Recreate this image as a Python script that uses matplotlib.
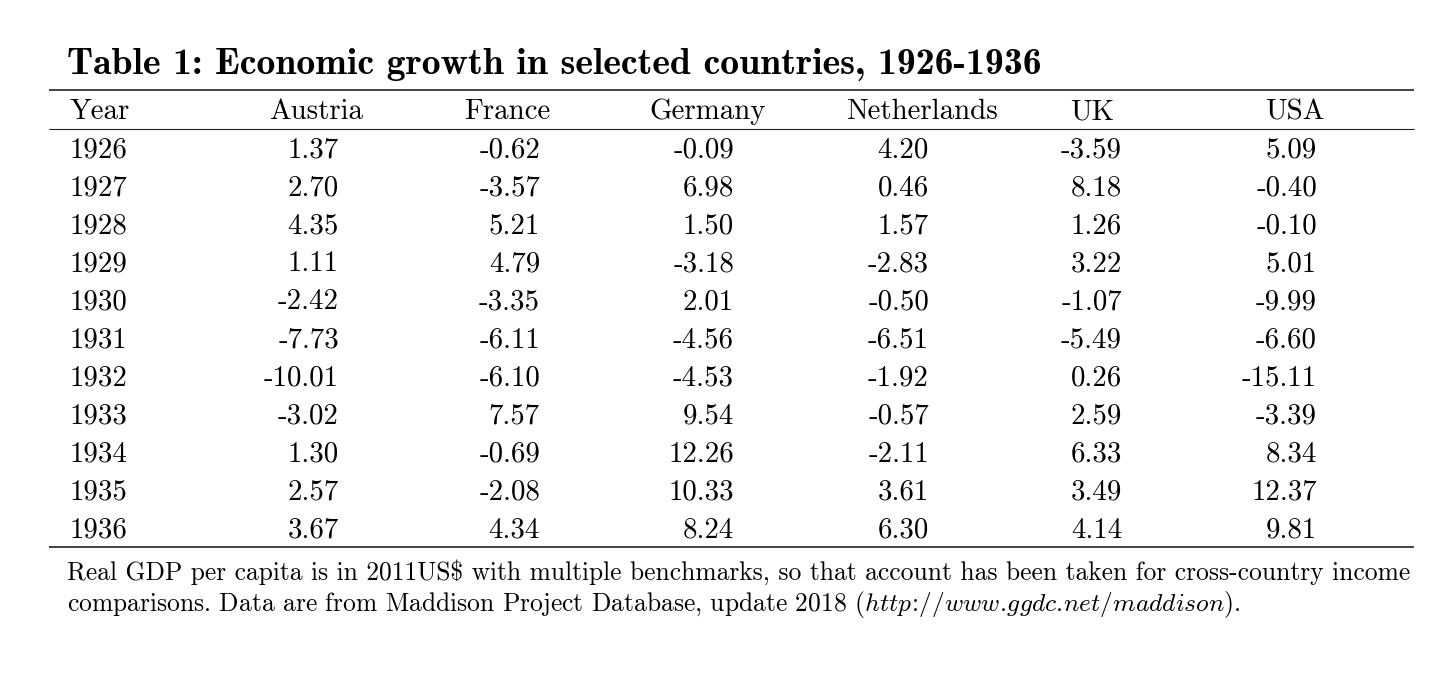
import matplotlib
matplotlib.use("Agg")
import matplotlib.pyplot as plt

plt.rcParams['mathtext.fontset'] = 'cm'

years = [1926, 1927, 1928, 1929, 1930, 1931, 1932, 1933, 1934, 1935, 1936]
countries = ["Austria", "France", "Germany", "Netherlands", "UK", "USA"]
austria = [1.37, 2.70, 4.35, 1.11, -2.42, -7.73, -10.01, -3.02, 1.30, 2.57, 3.67]
france = [-0.62, -3.57, 5.21, 4.79, -3.35, -6.11, -6.10, 7.57, -0.69, -2.08, 4.34]
germany = [-0.09, 6.98, 1.50, -3.18, 2.01, -4.56, -4.53, 9.54, 12.26, 10.33, 8.24]
netherlands = [4.20, 0.46, 1.57, -2.83, -0.50, -6.51, -1.92, -0.57, -2.11, 3.61, 6.30]
uk = [-3.59, 8.18, 1.26, 3.22, -1.07, -5.49, 0.26, 2.59, 6.33, 3.49, 4.14]
usa = [5.09, -0.40, -0.10, 5.01, -9.99, -6.60, -15.11, -3.39, 8.34, 12.37, 9.81]
series = [austria, france, germany, netherlands, uk, usa]

title = "Table 1: Economic growth in selected countries, 1926-1936"
note1 = ("Real GDP per capita is in 2011US$ with multiple benchmarks, so that "
         "account has been taken for cross-country income")
# \! cancels most of the space mathtext puts round ':' and '.'
note2 = ("comparisons. Data are from Maddison Project Database, update 2018 "
         r"($\mathit{http\!:\!//www.\!ggdc.\!net/maddison}$).")

W, H = 1456, 694
fig = plt.figure(figsize=(W / 100, H / 100), dpi=100)
ax = fig.add_axes([0, 0, 1, 1])
ax.set_xlim(0, W)
ax.set_ylim(H, 0)
ax.axis("off")
renderer = fig.canvas.get_renderer()

rm = ["cmr10", "DejaVu Serif"]


def fit(t, width):
    # scale font so the text spans the wanted pixel width
    w = t.get_window_extent(renderer).width
    t.set_fontsize(t.get_fontsize() * width / w)
    return t.get_fontsize()


# title
t = ax.text(67, 74, title, family=["cmb10", "DejaVu Serif"], fontsize=20,
            ha="left", va="baseline", color="black")
fit(t, 975)

# rules
x0, x1 = 49, 1414
ax.plot([x0, x1], [90, 90], color="#222222", lw=1.2, solid_capstyle="butt")
ax.plot([x0, x1], [128.5, 128.5], color="#222222", lw=0.8, solid_capstyle="butt")
ax.plot([x0, x1], [546.5, 546.5], color="#222222", lw=1.2, solid_capstyle="butt")

# body size from the widest header
probe = ax.text(0, -100, "Netherlands", family=rm, fontsize=20)
body = fit(probe, 152)
probe.remove()

head_x = [316, 507, 708, 922, 1092, 1295]
num_x = [339, 540, 734, 929, 1122, 1317]
y_head = 119
ax.text(70, y_head, "Year", family=rm, fontsize=body, ha="left", va="baseline")
for name, hx in zip(countries, head_x):
    ax.text(hx, y_head, name, family=rm, fontsize=body, ha="center", va="baseline")

y0, dy = 157, 38.1
for i, yr in enumerate(years):
    y = y0 + i * dy
    ax.text(70, y, str(yr), family=rm, fontsize=body, ha="left", va="baseline")
    for vals, nx in zip(series, num_x):
        ax.text(nx, y, f"{vals[i]:.2f}", family=rm, fontsize=body,
                ha="right", va="baseline")

# footnote
n1 = ax.text(67, 580, note1, family=rm, fontsize=18, ha="left", va="baseline")
fs = fit(n1, 1345)
ax.text(67, 611, note2, family=rm, fontsize=fs, ha="left", va="baseline")

fig.savefig("out.png", dpi=100, facecolor="white")
